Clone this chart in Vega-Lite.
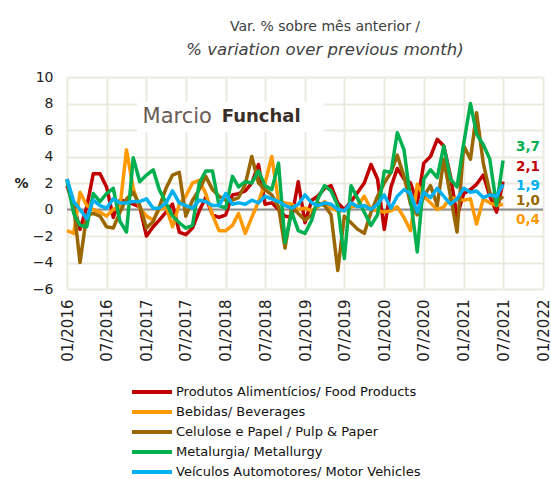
{
  "$schema": "https://vega.github.io/schema/vega-lite/v6.json",
  "width": 476,
  "height": 212,
  "autosize": {"type": "none"},
  "padding": {"left": 67, "top": 77, "right": 8, "bottom": 190},
  "background": "white",
  "config": {
    "locale": {"number": {"decimal": ",", "thousands": ".", "grouping": [3], "currency": ["R$", ""]}},
    "view": {"stroke": null},
    "font": "DejaVu Sans",
    "axis": {
      "grid": true,
      "gridColor": "#ECE9DE",
      "gridWidth": 2,
      "domain": false,
      "ticks": false,
      "labelColor": "#222222"
    }
  },
  "title": {
    "text": "Var. % sobre mês anterior /",
    "subtitle": "% variation over previous month)",
    "anchor": "middle",
    "dx": 20,
    "offset": 12,
    "font": "DejaVu Sans",
    "fontSize": 14,
    "fontWeight": "normal",
    "color": "#404040",
    "subtitleFont": "DejaVu Sans",
    "subtitleFontSize": 16.5,
    "subtitleFontStyle": "italic",
    "subtitleColor": "#404040",
    "subtitlePadding": 8
  },
  "data": {
    "values": [
      {"month": "2016-01", "food": 1.8, "bev": -1.6, "pulp": 2.3, "metal": 2.2, "veh": 2.3},
      {"month": "2016-02", "food": 0.3, "bev": -1.8, "pulp": 0.2, "metal": -0.3, "veh": 0.6},
      {"month": "2016-03", "food": -1.5, "bev": 1.3, "pulp": -4.0, "metal": -1.2, "veh": 0.0},
      {"month": "2016-04", "food": 0.2, "bev": 0.3, "pulp": -0.4, "metal": -1.3, "veh": -0.7},
      {"month": "2016-05", "food": 2.7, "bev": 0.0, "pulp": -0.3, "metal": 1.2, "veh": 0.7},
      {"month": "2016-06", "food": 2.7, "bev": -0.2, "pulp": -0.5, "metal": 0.6, "veh": 0.3},
      {"month": "2016-07", "food": 1.7, "bev": -0.5, "pulp": -1.3, "metal": 1.2, "veh": 0.1},
      {"month": "2016-08", "food": -0.6, "bev": 0.0, "pulp": -1.4, "metal": 1.6, "veh": 0.8},
      {"month": "2016-09", "food": 0.7, "bev": 0.2, "pulp": -0.2, "metal": -0.9, "veh": 0.5},
      {"month": "2016-10", "food": 0.6, "bev": 4.5, "pulp": 0.8, "metal": -1.7, "veh": 0.5},
      {"month": "2016-11", "food": 0.4, "bev": 1.6, "pulp": 1.3, "metal": 3.9, "veh": 0.6},
      {"month": "2016-12", "food": 0.2, "bev": 0.1, "pulp": 0.3, "metal": 2.1, "veh": 0.6},
      {"month": "2017-01", "food": -2.0, "bev": -0.5, "pulp": -1.4, "metal": 2.6, "veh": 0.8},
      {"month": "2017-02", "food": -1.3, "bev": -0.8, "pulp": -0.9, "metal": 3.0, "veh": 0.1},
      {"month": "2017-03", "food": -0.8, "bev": 0.0, "pulp": 0.2, "metal": 1.5, "veh": 0.1},
      {"month": "2017-04", "food": -0.2, "bev": 0.2, "pulp": 1.6, "metal": 0.5, "veh": 0.5},
      {"month": "2017-05", "food": 0.4, "bev": -1.3, "pulp": 2.6, "metal": -0.5, "veh": 1.4},
      {"month": "2017-06", "food": -1.7, "bev": 0.4, "pulp": 2.8, "metal": -1.0, "veh": 0.5},
      {"month": "2017-07", "food": -1.9, "bev": 1.0, "pulp": -0.5, "metal": -1.4, "veh": 0.3},
      {"month": "2017-08", "food": -1.4, "bev": 2.0, "pulp": 0.7, "metal": -1.2, "veh": 0.1},
      {"month": "2017-09", "food": -0.1, "bev": 2.2, "pulp": 1.5, "metal": 2.0, "veh": 0.7},
      {"month": "2017-10", "food": 0.9, "bev": 1.2, "pulp": 2.5, "metal": 2.9, "veh": 0.6},
      {"month": "2017-11", "food": -0.4, "bev": -0.4, "pulp": 1.5, "metal": 2.9, "veh": 0.3},
      {"month": "2017-12", "food": -0.6, "bev": -1.6, "pulp": 1.0, "metal": 0.3, "veh": 0.3},
      {"month": "2018-01", "food": -0.4, "bev": -1.6, "pulp": 0.7, "metal": 0.1, "veh": 1.2},
      {"month": "2018-02", "food": 1.1, "bev": -1.2, "pulp": 0.7, "metal": 2.5, "veh": 0.4},
      {"month": "2018-03", "food": 1.2, "bev": -0.3, "pulp": 0.9, "metal": 1.7, "veh": 0.5},
      {"month": "2018-04", "food": 1.4, "bev": -1.8, "pulp": 1.9, "metal": 2.1, "veh": 0.4},
      {"month": "2018-05", "food": 2.0, "bev": -0.6, "pulp": 4.0, "metal": 2.0, "veh": 0.7},
      {"month": "2018-06", "food": 3.4, "bev": 0.6, "pulp": 2.0, "metal": 2.9, "veh": 0.5},
      {"month": "2018-07", "food": 0.4, "bev": 2.0, "pulp": 1.5, "metal": 1.8, "veh": 1.0},
      {"month": "2018-08", "food": 0.5, "bev": 4.0, "pulp": 1.1, "metal": 1.5, "veh": 0.8},
      {"month": "2018-09", "food": 0.0, "bev": 0.6, "pulp": 0.2, "metal": 3.5, "veh": 0.6},
      {"month": "2018-10", "food": -0.5, "bev": 0.5, "pulp": -2.9, "metal": -2.5, "veh": 0.3},
      {"month": "2018-11", "food": -0.6, "bev": 0.4, "pulp": 0.2, "metal": -0.2, "veh": 0.1},
      {"month": "2018-12", "food": 2.1, "bev": 0.0, "pulp": -0.3, "metal": -1.6, "veh": 0.4},
      {"month": "2019-01", "food": -1.0, "bev": 0.1, "pulp": -0.8, "metal": -1.8, "veh": 1.1},
      {"month": "2019-02", "food": 0.7, "bev": -0.1, "pulp": -0.4, "metal": -0.8, "veh": 0.5},
      {"month": "2019-03", "food": 1.0, "bev": 0.2, "pulp": 0.5, "metal": 0.8, "veh": 0.3},
      {"month": "2019-04", "food": 1.6, "bev": 0.6, "pulp": 0.3, "metal": 1.8, "veh": 0.5},
      {"month": "2019-05", "food": 1.8, "bev": 0.1, "pulp": -0.4, "metal": 1.4, "veh": 0.4},
      {"month": "2019-06", "food": 0.5, "bev": -0.1, "pulp": -4.6, "metal": 0.3, "veh": 0.0},
      {"month": "2019-07", "food": 0.0, "bev": -0.1, "pulp": -0.5, "metal": -3.7, "veh": -0.1},
      {"month": "2019-08", "food": 0.6, "bev": 0.2, "pulp": -1.0, "metal": 1.8, "veh": 0.5},
      {"month": "2019-09", "food": 1.3, "bev": 0.3, "pulp": -1.5, "metal": 0.8, "veh": 0.2},
      {"month": "2019-10", "food": 2.0, "bev": 1.0, "pulp": -1.8, "metal": -0.2, "veh": 0.3},
      {"month": "2019-11", "food": 3.4, "bev": 0.0, "pulp": -0.2, "metal": -1.2, "veh": 0.0},
      {"month": "2019-12", "food": 2.3, "bev": -0.1, "pulp": 1.0, "metal": -0.4, "veh": 0.4},
      {"month": "2020-01", "food": -1.5, "bev": -0.2, "pulp": 2.0, "metal": 2.9, "veh": 1.1},
      {"month": "2020-02", "food": 1.7, "bev": -0.1, "pulp": 2.8, "metal": 2.8, "veh": 0.1},
      {"month": "2020-03", "food": 3.1, "bev": 0.2, "pulp": 4.1, "metal": 5.8, "veh": 1.0},
      {"month": "2020-04", "food": 2.3, "bev": -0.6, "pulp": 2.5, "metal": 4.5, "veh": 1.5},
      {"month": "2020-05", "food": 2.0, "bev": -1.6, "pulp": 0.4, "metal": 0.8, "veh": 1.2},
      {"month": "2020-06", "food": 0.5, "bev": 1.9, "pulp": -0.4, "metal": -3.2, "veh": -0.2},
      {"month": "2020-07", "food": 3.5, "bev": 1.0, "pulp": 1.0, "metal": 2.3, "veh": 1.3},
      {"month": "2020-08", "food": 4.0, "bev": 0.5, "pulp": 1.8, "metal": 3.0, "veh": 0.9},
      {"month": "2020-09", "food": 5.3, "bev": 0.0, "pulp": 0.3, "metal": 2.4, "veh": 1.6},
      {"month": "2020-10", "food": 4.8, "bev": 0.2, "pulp": 3.8, "metal": 4.8, "veh": 1.0},
      {"month": "2020-11", "food": 2.5, "bev": 0.9, "pulp": 1.0, "metal": 2.3, "veh": 0.4},
      {"month": "2020-12", "food": -0.5, "bev": 0.8, "pulp": -1.7, "metal": 1.7, "veh": 0.8},
      {"month": "2021-01", "food": 1.2, "bev": 0.7, "pulp": 4.8, "metal": 5.0, "veh": 1.6},
      {"month": "2021-02", "food": 1.5, "bev": 0.8, "pulp": 3.8, "metal": 8.0, "veh": 1.3},
      {"month": "2021-03", "food": 1.9, "bev": -1.1, "pulp": 7.3, "metal": 5.7, "veh": 1.4},
      {"month": "2021-04", "food": 2.6, "bev": 0.8, "pulp": 3.5, "metal": 4.9, "veh": 0.9},
      {"month": "2021-05", "food": 1.0, "bev": 0.5, "pulp": 1.3, "metal": 3.8, "veh": 1.1},
      {"month": "2021-06", "food": -0.2, "bev": 0.3, "pulp": 0.5, "metal": 0.3, "veh": 1.0},
      {"month": "2021-07", "food": 2.1, "bev": 0.4, "pulp": 1.0, "metal": 3.7, "veh": 1.9}
    ]
  },
  "layer": [
    {
      "data": {"values": [{}]},
      "mark": {"type": "rect", "color": "white"},
      "encoding": {
        "x": {
          "datum": {"year": 2016, "month": 11, "date": 18, "utc": true},
          "type": "temporal",
          "scale": {"type": "utc", "domain": [{"year": 2016, "month": 1, "date": 1, "utc": true}, {"year": 2022, "month": 1, "date": 1, "utc": true}]},
          "axis": {
            "title": null,
            "tickCount": 30,
            "values": [
              {"year": 2016, "month": 1, "date": 1, "utc": true},
              {"year": 2016, "month": 7, "date": 1, "utc": true},
              {"year": 2017, "month": 1, "date": 1, "utc": true},
              {"year": 2017, "month": 7, "date": 1, "utc": true},
              {"year": 2018, "month": 1, "date": 1, "utc": true},
              {"year": 2018, "month": 7, "date": 1, "utc": true},
              {"year": 2019, "month": 1, "date": 1, "utc": true},
              {"year": 2019, "month": 7, "date": 1, "utc": true},
              {"year": 2020, "month": 1, "date": 1, "utc": true},
              {"year": 2020, "month": 7, "date": 1, "utc": true},
              {"year": 2021, "month": 1, "date": 1, "utc": true},
              {"year": 2021, "month": 7, "date": 1, "utc": true},
              {"year": 2022, "month": 1, "date": 1, "utc": true}
            ],
            "format": "%m/%Y",
            "labelAngle": -90,
            "labelFontSize": 15,
            "labelPadding": 10,
            "labelFlush": false,
            "labelOverlap": false
          }
        },
        "x2": {"datum": {"year": 2019, "month": 4, "date": 1, "utc": true}},
        "y": {
          "datum": 8.1,
          "type": "quantitative",
          "scale": {"domain": [-6, 10], "nice": false},
          "axis": {
            "tickCount": 30,
            "values": [-6, -4, -2, 0, 2, 4, 6, 8, 10],
            "format": "d",
            "title": "%",
            "titleAngle": 0,
            "titleAlign": "center",
            "titleBaseline": "middle",
            "titleX": -46,
            "titleY": 106,
            "titleFontSize": 14,
            "titleFontWeight": "bold",
            "titleColor": "#222222",
            "labelFontSize": 14,
            "labelPadding": 14,
            "labelOverlap": false
          }
        },
        "y2": {"datum": 5.85}
      }
    },
    {
      "data": {"values": [{}]},
      "mark": {"type": "text", "text": "Marcio", "align": "left", "baseline": "middle", "font": "DejaVu Sans", "fontSize": 21, "color": "#6a5c54"},
      "encoding": {
        "x": {"datum": {"year": 2016, "month": 12, "date": 14, "utc": true}, "type": "temporal"},
        "y": {"datum": 7.0, "type": "quantitative"}
      }
    },
    {
      "data": {"values": [{}]},
      "mark": {"type": "text", "text": "Funchal", "align": "left", "baseline": "middle", "font": "DejaVu Sans", "fontSize": 18, "fontWeight": "bold", "color": "#3a2e28"},
      "encoding": {
        "x": {"datum": {"year": 2017, "month": 12, "date": 14, "utc": true}, "type": "temporal"},
        "y": {"datum": 7.0, "type": "quantitative"}
      }
    },
    {
      "data": {"values": [{}]},
      "mark": {"type": "rule", "color": "#8c8c8c", "strokeWidth": 2},
      "encoding": {"y": {"datum": 0, "type": "quantitative"}}
    },
    {
      "transform": [{"fold": ["food", "bev", "pulp", "metal", "veh"], "as": ["series", "value"]}],
      "mark": {"type": "line", "strokeWidth": 3.5, "strokeJoin": "round"},
      "encoding": {
        "x": {"field": "month", "type": "temporal"},
        "y": {"field": "value", "type": "quantitative"},
        "color": {
          "field": "series",
          "type": "nominal",
          "scale": {
            "domain": ["food", "bev", "pulp", "metal", "veh"],
            "range": ["#C00000", "#FF9900", "#996600", "#00B050", "#00B0F0"]
          },
          "legend": {
            "orient": "none",
            "legendX": 78,
            "legendY": 308,
            "title": null,
            "direction": "vertical",
            "padding": 0,
            "symbolType": "M-4,0H4",
            "symbolSize": 100,
            "symbolStrokeWidth": 4,
            "labelFont": "DejaVu Sans",
            "labelFontSize": 13,
            "labelColor": "#111111",
            "labelOffset": 17,
            "labelLimit": 400,
            "rowPadding": 4,
            "labelExpr": "{'food': 'Produtos Alimentícios/ Food Products', 'bev': 'Bebidas/ Beverages', 'pulp': 'Celulose e Papel / Pulp & Paper', 'metal': 'Metalurgia/ Metallurgy', 'veh': 'Veículos Automotores/ Motor Vehicles'}[datum.value]"
          }
        }
      }
    },
    {
      "transform": [{"fold": ["food", "bev", "pulp", "metal", "veh"], "as": ["series", "value"]}, {"filter": "datum.series === 'metal'"}],
      "mark": {"type": "text", "align": "left", "baseline": "middle", "dx": 13, "dy": -13.5, "fontSize": 13.5, "fontWeight": "bold", "color": "#00B050"},
      "encoding": {
        "x": {"field": "month", "type": "temporal", "aggregate": "max"},
        "y": {"field": "value", "type": "quantitative", "aggregate": {"argmax": "month"}},
        "text": {"field": "value", "type": "quantitative", "aggregate": {"argmax": "month"}, "format": ".1f"}
      }
    },
    {
      "transform": [{"fold": ["food", "bev", "pulp", "metal", "veh"], "as": ["series", "value"]}, {"filter": "datum.series === 'food'"}],
      "mark": {"type": "text", "align": "left", "baseline": "middle", "dx": 13, "dy": -14.7, "fontSize": 13.5, "fontWeight": "bold", "color": "#C00000"},
      "encoding": {
        "x": {"field": "month", "type": "temporal", "aggregate": "max"},
        "y": {"field": "value", "type": "quantitative", "aggregate": {"argmax": "month"}},
        "text": {"field": "value", "type": "quantitative", "aggregate": {"argmax": "month"}, "format": ".1f"}
      }
    },
    {
      "transform": [{"fold": ["food", "bev", "pulp", "metal", "veh"], "as": ["series", "value"]}, {"filter": "datum.series === 'veh'"}],
      "mark": {"type": "text", "align": "left", "baseline": "middle", "dx": 13, "dy": 1.5, "fontSize": 13.5, "fontWeight": "bold", "color": "#00B0F0"},
      "encoding": {
        "x": {"field": "month", "type": "temporal", "aggregate": "max"},
        "y": {"field": "value", "type": "quantitative", "aggregate": {"argmax": "month"}},
        "text": {"field": "value", "type": "quantitative", "aggregate": {"argmax": "month"}, "format": ".1f"}
      }
    },
    {
      "transform": [{"fold": ["food", "bev", "pulp", "metal", "veh"], "as": ["series", "value"]}, {"filter": "datum.series === 'pulp'"}],
      "mark": {"type": "text", "align": "left", "baseline": "middle", "dx": 13, "dy": 5, "fontSize": 13.5, "fontWeight": "bold", "color": "#996600"},
      "encoding": {
        "x": {"field": "month", "type": "temporal", "aggregate": "max"},
        "y": {"field": "value", "type": "quantitative", "aggregate": {"argmax": "month"}},
        "text": {"field": "value", "type": "quantitative", "aggregate": {"argmax": "month"}, "format": ".1f"}
      }
    },
    {
      "transform": [{"fold": ["food", "bev", "pulp", "metal", "veh"], "as": ["series", "value"]}, {"filter": "datum.series === 'bev'"}],
      "mark": {"type": "text", "align": "left", "baseline": "middle", "dx": 13, "dy": 15.8, "fontSize": 13.5, "fontWeight": "bold", "color": "#FF9900"},
      "encoding": {
        "x": {"field": "month", "type": "temporal", "aggregate": "max"},
        "y": {"field": "value", "type": "quantitative", "aggregate": {"argmax": "month"}},
        "text": {"field": "value", "type": "quantitative", "aggregate": {"argmax": "month"}, "format": ".1f"}
      }
    }
  ]
}
